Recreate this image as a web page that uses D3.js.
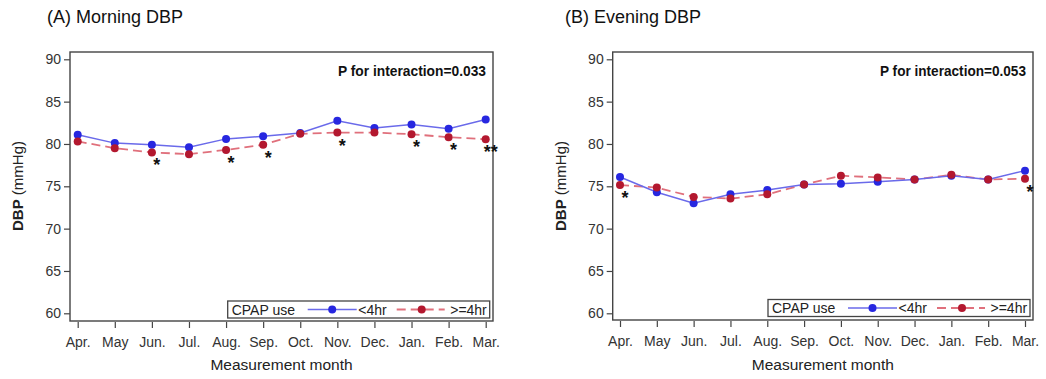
<!DOCTYPE html>
<html><head><meta charset="utf-8">
<script src="https://cdn.jsdelivr.net/npm/d3@7/dist/d3.min.js"></script>
<style>body{margin:0;background:#fff}svg{display:block;font-family:"Liberation Sans",Arial,sans-serif}</style>
</head><body><svg id="c" width="1046" height="379"></svg>
<script>
const months = ["Apr.","May","Jun.","Jul.","Aug.","Sep.","Oct.","Nov.","Dec.","Jan.","Feb.","Mar."];
const yTicks = [60,65,70,75,80,85,90];
const morningLt4 = [81.1,80.1,79.9,79.6,80.6,80.9,81.3,82.75,81.9,82.3,81.8,82.9];
const morningGe4 = [80.3,79.5,79.0,78.8,79.3,79.9,81.2,81.35,81.35,81.15,80.8,80.55];
const morningStars = ["","","*","","*","*","","*","","*","*","**"];
const eveningLt4 = [76.1,74.3,73.0,74.05,74.55,75.2,75.3,75.55,75.8,76.25,75.8,76.85];
const eveningGe4 = [75.15,74.85,73.75,73.55,74.05,75.2,76.25,76.05,75.8,76.35,75.8,75.9];
const eveningStars = ["*","","","","","","","","","","","*"];
const titles = ["(A) Morning DBP","(B) Evening DBP"];
const pTexts = ["P for interaction=0.033","P for interaction=0.053"];
const legendTitle = "CPAP use";
const seriesNames = ["<4hr",">=4hr"];

const svg = d3.select("#c");
const blue = "#2727e0", blueLine = "#6a6aea", red = "#b3182f", redLine = "#e0707c";

const panels = [
  {left:70, right:493, top:52, bottom:321, x0:77.7, x1:485.7, lt4:morningLt4, ge4:morningGe4, stars:morningStars,
   title:titles[0], p:pTexts[0], titleX:47, yTitleX:23, pW:148, legX:227.7, legY:301},
  {left:612.7, right:1033, top:52, bottom:320, x0:620, x1:1025, lt4:eveningLt4, ge4:eveningGe4, stars:eveningStars,
   title:titles[1], p:pTexts[1], titleX:565, yTitleX:566, pW:146, legX:768, legY:299.5}
];

panels.forEach(pn => {
  const g = svg.append("g");
  const x = d3.scalePoint().domain(months).range([pn.x0, pn.x1]);
  const y = d3.scaleLinear().domain([60,90]).range([313.3, 59.3]);

  g.append("text").attr("x", pn.titleX).attr("y", 23).attr("font-size", 18).attr("fill","#111").text(pn.title);

  const ya = g.append("g").attr("transform", `translate(${pn.left},0)`)
    .call(d3.axisLeft(y).tickValues(yTicks).tickSize(6).tickPadding(3));
  ya.select(".domain").remove();
  ya.selectAll("line").attr("stroke","#444").attr("stroke-width",1.2);
  ya.selectAll("text").attr("font-size",14).attr("fill","#333").attr("font-family","Liberation Sans, Arial, sans-serif");

  const xa = g.append("g").attr("transform", `translate(0,${pn.bottom+1})`)
    .call(d3.axisBottom(x).tickSize(6).tickPadding(9));
  xa.select(".domain").remove();
  xa.selectAll("line").attr("stroke","#444").attr("stroke-width",1.2);
  xa.selectAll("text").attr("font-size",14).attr("fill","#333").attr("font-family","Liberation Sans, Arial, sans-serif");

  g.append("rect").attr("x", pn.left).attr("y", pn.top).attr("width", pn.right-pn.left).attr("height", pn.bottom-pn.top)
    .attr("fill","none").attr("stroke","#444").attr("stroke-width",1.4);

  g.append("text").attr("x",(pn.left+pn.right)/2).attr("y",370).attr("text-anchor","middle")
    .attr("font-size",15.5).attr("fill","#222").text("Measurement month");
  const yt = g.append("text").attr("transform",`translate(${pn.yTitleX},186) rotate(-90)`).attr("text-anchor","middle")
    .attr("font-size",15).attr("fill","#222");
  yt.append("tspan").attr("font-weight","bold").text("DBP");
  yt.append("tspan").text(" (mmHg)");

  g.append("text").attr("x", pn.right-7).attr("y", 76).attr("text-anchor","end").attr("font-size",15.5)
    .attr("font-weight","bold").attr("fill","#111").attr("textLength", pn.pW).attr("lengthAdjust","spacingAndGlyphs").text(pn.p);

  const line = d3.line().x((d,i)=>x(months[i])).y(d=>y(d));
  g.append("path").datum(pn.ge4).attr("d", line).attr("fill","none").attr("stroke",redLine).attr("stroke-width",1.8).attr("stroke-dasharray","9,5");
  g.append("path").datum(pn.lt4).attr("d", line).attr("fill","none").attr("stroke",blueLine).attr("stroke-width",1.5);
  g.selectAll(".pb").data(pn.lt4).enter().append("circle").attr("cx",(d,i)=>x(months[i])).attr("cy",d=>y(d)).attr("r",4).attr("fill",blue);
  g.selectAll(".pr").data(pn.ge4).enter().append("circle").attr("cx",(d,i)=>x(months[i])).attr("cy",d=>y(d)).attr("r",4).attr("fill",red);

  g.selectAll(".st").data(pn.stars).enter().append("text")
    .attr("x",(d,i)=>x(months[i])+5).attr("y",(d,i)=>y(pn.ge4[i])+19).attr("text-anchor","middle")
    .attr("font-size",18).attr("font-weight","bold").attr("fill","#111").text(d=>d);

  const lg = g.append("g").attr("transform",`translate(${pn.legX},${pn.legY})`);
  lg.append("rect").attr("width",262).attr("height",17).attr("fill","#fff").attr("stroke","#444").attr("stroke-width",1.3);
  lg.append("text").attr("x",4).attr("y",13.5).attr("font-size",14).attr("fill","#222").text(legendTitle);
  lg.append("line").attr("x1",80).attr("x2",129).attr("y1",8.5).attr("y2",8.5).attr("stroke",blueLine).attr("stroke-width",1.5);
  lg.append("circle").attr("cx",104.5).attr("cy",8.5).attr("r",4).attr("fill",blue);
  lg.append("text").attr("x",130.5).attr("y",13.5).attr("font-size",14).attr("fill","#222").text(seriesNames[0]);
  lg.append("line").attr("x1",169).attr("x2",217).attr("y1",8.5).attr("y2",8.5).attr("stroke",redLine).attr("stroke-width",1.8).attr("stroke-dasharray","9,5");
  lg.append("circle").attr("cx",194).attr("cy",8.5).attr("r",4).attr("fill",red);
  lg.append("text").attr("x",222.5).attr("y",13.5).attr("font-size",14).attr("fill","#222").text(seriesNames[1]);
});
</script></body></html>
